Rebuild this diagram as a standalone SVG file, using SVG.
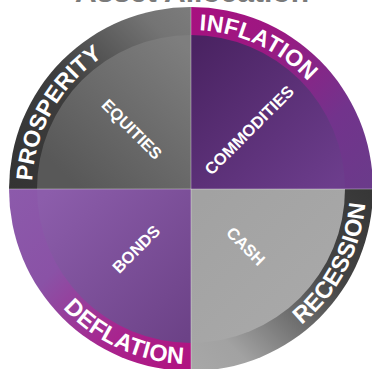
<svg xmlns="http://www.w3.org/2000/svg" width="372" height="369" viewBox="0 0 372 369">
<style>
.band{font-family:"Liberation Sans",Arial,sans-serif;font-weight:bold;fill:#fff}
.lab{font-family:"Liberation Sans",Arial,sans-serif;font-weight:bold;font-size:16.5px;fill:#fff;text-anchor:middle}
.title{font-family:"Liberation Sans",Arial,sans-serif;font-weight:bold;font-size:30px;fill:#7a7a7a;text-anchor:middle}
.div{stroke:#ffffff;stroke-opacity:0.35;stroke-width:1}
</style>
<defs>
<path id="topArc" d="M32,189 A159,159 0 0 1 350,189"/>
<path id="botArc" d="M16,189 A175,175 0 0 0 366,189"/>
<linearGradient id="gTLband" gradientUnits="userSpaceOnUse" x1="9" y1="189" x2="191" y2="7">
<stop offset="0" stop-color="#333333"/><stop offset="0.45" stop-color="#3e3e3e"/><stop offset="0.85" stop-color="#747474"/><stop offset="1" stop-color="#7c7c7c"/>
</linearGradient>
<linearGradient id="gTLin" gradientUnits="userSpaceOnUse" x1="60" y1="170" x2="180" y2="40">
<stop offset="0" stop-color="#585858"/><stop offset="1" stop-color="#7e7e7e"/>
</linearGradient>
<linearGradient id="gTRband" gradientUnits="userSpaceOnUse" x1="191" y1="7" x2="373" y2="189">
<stop offset="0" stop-color="#a8107f"/><stop offset="0.3" stop-color="#9c1882"/><stop offset="0.7" stop-color="#72338c"/><stop offset="1" stop-color="#6a3b8a"/>
</linearGradient>
<linearGradient id="gTRin" gradientUnits="userSpaceOnUse" x1="200" y1="40" x2="340" y2="180">
<stop offset="0" stop-color="#4a2362"/><stop offset="1" stop-color="#6c3d8c"/>
</linearGradient>
<linearGradient id="gBLband" gradientUnits="userSpaceOnUse" x1="9" y1="189" x2="191" y2="371">
<stop offset="0" stop-color="#8c5aab"/><stop offset="0.35" stop-color="#8a52a6"/><stop offset="0.7" stop-color="#a8248e"/><stop offset="1" stop-color="#b1117f"/>
</linearGradient>
<linearGradient id="gBLin" gradientUnits="userSpaceOnUse" x1="40" y1="200" x2="185" y2="340">
<stop offset="0" stop-color="#8c5dab"/><stop offset="1" stop-color="#6c4287"/>
</linearGradient>
<linearGradient id="gBRband" gradientUnits="userSpaceOnUse" x1="373" y1="189" x2="191" y2="371">
<stop offset="0" stop-color="#363636"/><stop offset="0.35" stop-color="#444444"/><stop offset="0.6" stop-color="#747474"/><stop offset="0.82" stop-color="#a2a2a2"/><stop offset="1" stop-color="#a8a8a8"/>
</linearGradient>
<linearGradient id="gBRin" gradientUnits="userSpaceOnUse" x1="200" y1="200" x2="340" y2="340">
<stop offset="0" stop-color="#a2a2a2"/><stop offset="1" stop-color="#aaaaaa"/>
</linearGradient>
</defs>
<rect width="372" height="369" fill="#ffffff"/>
<text class="title" x="192" y="2">Asset Allocation</text>
<g id="prosperity">
<path d="M191,189 L9,189 A182,182 0 0 1 191,7 Z" fill="url(#gTLband)"/>
<path d="M191,189 L37,189 A154,154 0 0 1 191,35 Z" fill="url(#gTLin)"/>
<text class="band" font-size="23"><textPath href="#topArc" startOffset="8">PROSPERITY</textPath></text>
<text class="lab" transform="translate(132,129) rotate(45)" y="6">EQUITIES</text>
</g>
<g id="inflation">
<path d="M191,189 L191,7 A182,182 0 0 1 373,189 Z" fill="url(#gTRband)"/>
<path d="M191,189 L191,35 A154,154 0 0 1 345,189 Z" fill="url(#gTRin)"/>
<text class="band" font-size="23" letter-spacing="0.3"><textPath href="#topArc" startOffset="258">INFLATION</textPath></text>
<text class="lab" transform="translate(249,130) rotate(-45)" y="6">COMMODITIES</text>
</g>
<g id="recession">
<path d="M191,189 L373,189 A182,182 0 0 1 191,371 Z" fill="url(#gBRband)"/>
<path d="M191,189 L345,189 A154,154 0 0 1 191,343 Z" fill="url(#gBRin)"/>
<text class="band" font-size="23.5" letter-spacing="0.3"><textPath href="#botArc" startOffset="394">RECESSION</textPath></text>
<text class="lab" transform="translate(246,246) rotate(45)" y="6">CASH</text>
</g>
<g id="deflation">
<path d="M191,189 L191,371 A182,182 0 0 1 9,189 Z" fill="url(#gBLband)"/>
<path d="M191,189 L191,343 A154,154 0 0 1 37,189 Z" fill="url(#gBLin)"/>
<text class="band" font-size="23.5" letter-spacing="0.4"><textPath href="#botArc" startOffset="131">DEFLATION</textPath></text>
<text class="lab" transform="translate(136,249) rotate(-45)" y="6">BONDS</text>
</g>
<g id="connectors">
<line class="div" x1="9" y1="189" x2="372" y2="189"/>
<line class="div" x1="191" y1="7" x2="191" y2="369"/>
</g>
</svg>
